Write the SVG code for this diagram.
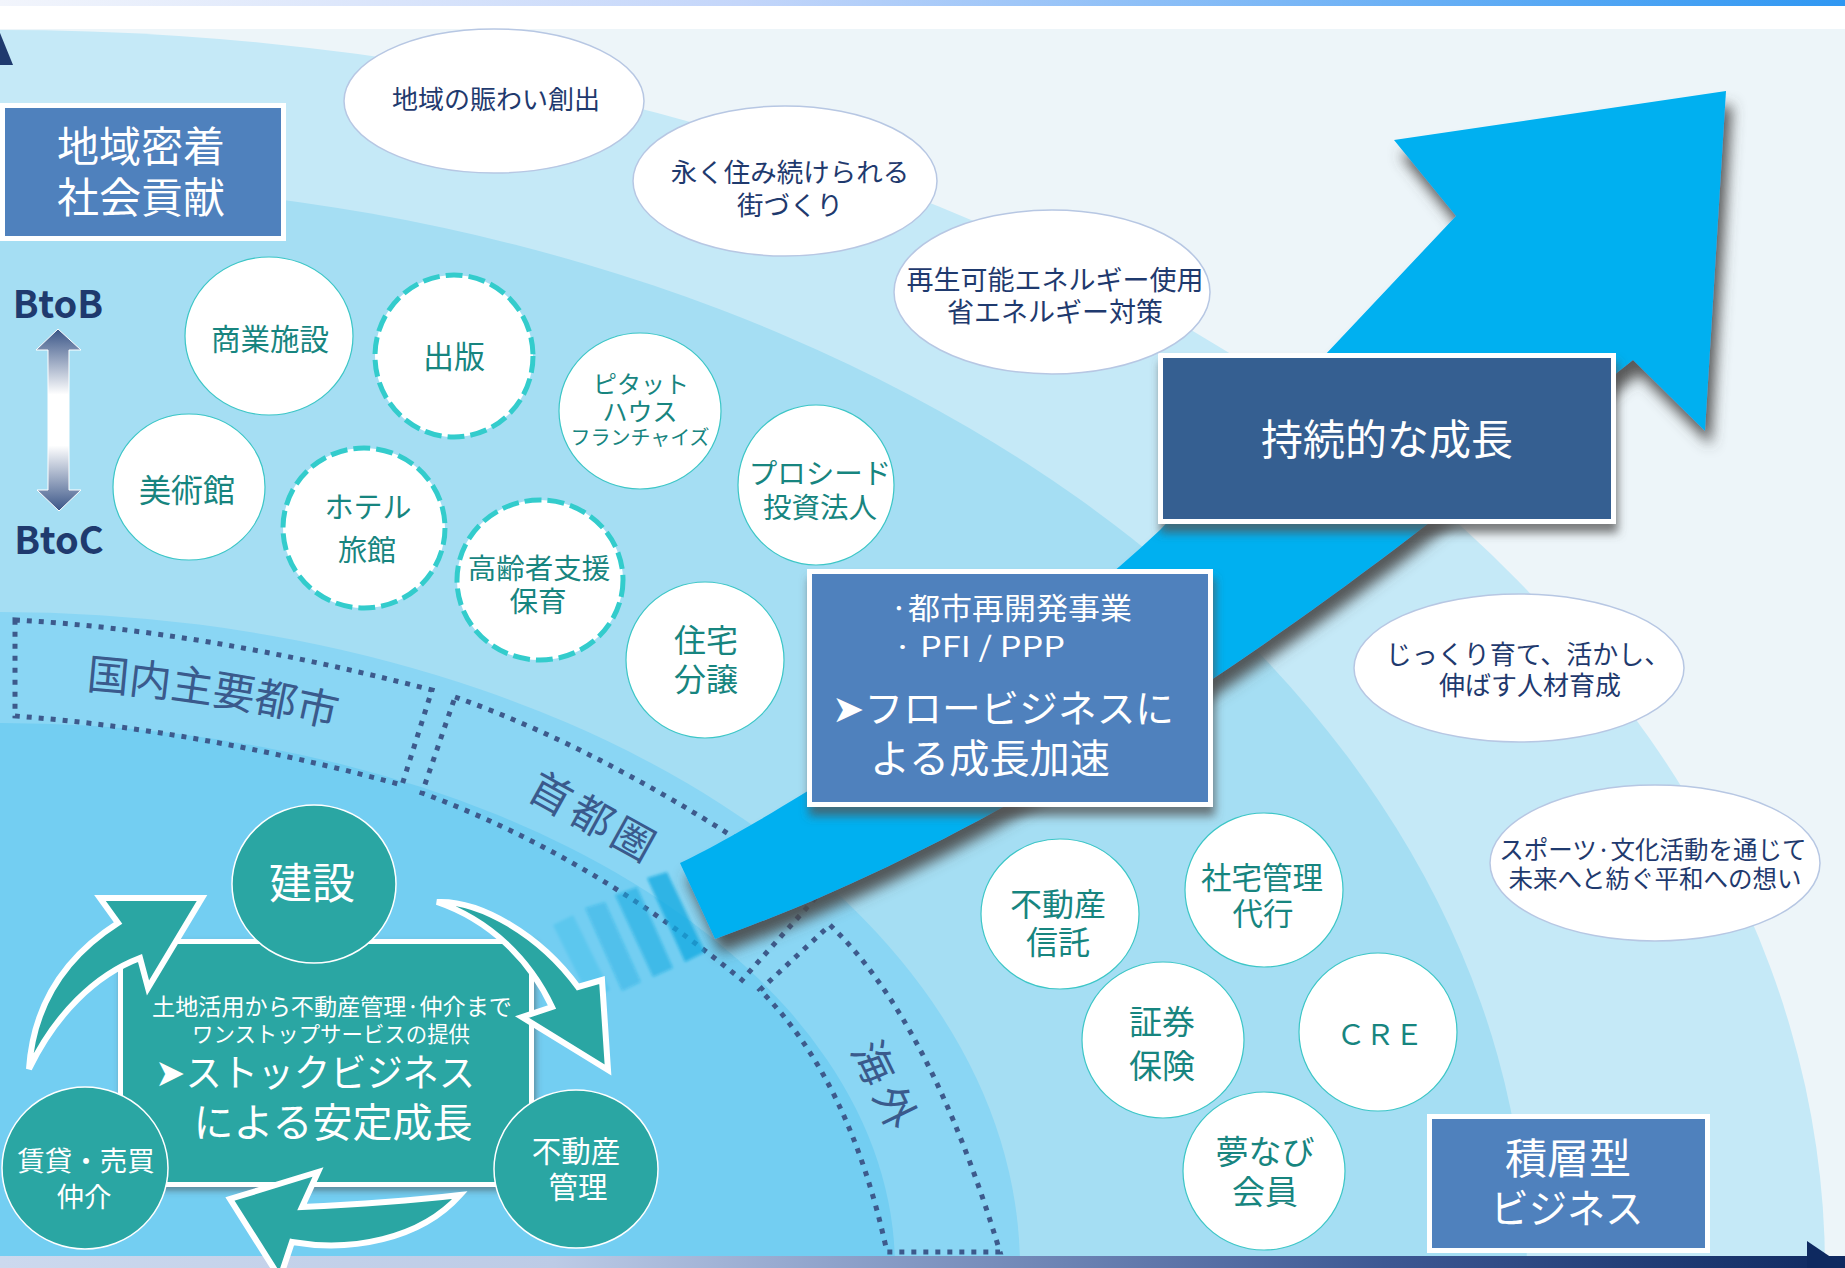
<svg xmlns="http://www.w3.org/2000/svg" width="1845" height="1268" viewBox="0 0 1845 1268">
<defs>
<style>
text{font-family:"Noto Sans CJK JP","Noto Sans CJK SC",sans-serif;dominant-baseline:central;text-anchor:middle}
tspan{dominant-baseline:central}
.nv{fill:#1F3A6E}
.tl{fill:#17857F}
.wt{fill:#fff}
.dl{fill:#3A5A8C}
.e1{fill:#fff;stroke:#B7C7E3;stroke-width:1.5}
.e2{fill:#fff;stroke:#3CC6C6;stroke-width:1.2}
.e3{fill:#fff;stroke:#33CCCC;stroke-width:5;stroke-dasharray:17 6}
.tc{fill:#2AA6A3;stroke:#fff;stroke-width:1.5}
.bx{stroke:#fff;stroke-width:5}
.dot{fill:none;stroke:#3D5A8C;stroke-width:5;stroke-dasharray:5 7}
.ta{fill:#2AA6A3;stroke:#fff;stroke-width:6;stroke-linejoin:miter}
.st{fill:#12A9E0}
</style>
<linearGradient id="gTop" x1="0" y1="0" x2="1845" y2="0" gradientUnits="userSpaceOnUse">
<stop offset="0" stop-color="#F2F5FC"/><stop offset="0.4" stop-color="#C4D6FA"/><stop offset="1" stop-color="#2F97F2"/>
</linearGradient>
<linearGradient id="gBot" x1="0" y1="0" x2="1845" y2="0" gradientUnits="userSpaceOnUse">
<stop offset="0" stop-color="#CCD9EE"/><stop offset="0.3" stop-color="#BCCBE6"/><stop offset="0.45" stop-color="#8FA3CB"/><stop offset="0.75" stop-color="#3D5893"/><stop offset="1" stop-color="#0E2960"/>
</linearGradient>
<linearGradient id="gBB" x1="0" y1="329" x2="0" y2="511" gradientUnits="userSpaceOnUse">
<stop offset="0" stop-color="#3A5587"/><stop offset="0.36" stop-color="#fff"/><stop offset="0.64" stop-color="#fff"/><stop offset="1" stop-color="#3A5587"/>
</linearGradient>
<filter id="sh" x="-10%" y="-10%" width="130%" height="130%"><feDropShadow dx="6" dy="14" stdDeviation="7" flood-color="#4A4A4A" flood-opacity="0.9"/></filter>
<filter id="bs" x="-10%" y="-10%" width="130%" height="140%"><feDropShadow dx="2" dy="9" stdDeviation="5" flood-color="#555" flood-opacity="0.75"/></filter>
<filter id="ss" x="-10%" y="-10%" width="130%" height="130%"><feDropShadow dx="2" dy="4" stdDeviation="3" flood-color="#444" flood-opacity="0.5"/></filter>
<filter id="bl"><feGaussianBlur stdDeviation="1.5"/></filter>
<path id="p1" d="M0,684 Q230,692 440,756"/>
</defs>

<g id="background">
<rect width="1845" height="1268" fill="#fff"/>
<rect y="29" width="1845" height="1230" fill="#EDF5F9"/>
<ellipse cx="0" cy="1268" rx="1825" ry="1238" fill="#C5E9F7"/>
<ellipse cx="0" cy="1268" rx="1527" ry="1087" fill="#A5DEF3"/>
<ellipse cx="0" cy="1268" rx="1020" ry="656" fill="#8AD6F4"/>
<ellipse cx="0" cy="1268" rx="895" ry="545" fill="#73CEF2"/>
<rect width="1845" height="6" fill="url(#gTop)"/>
<rect y="1256" width="1845" height="12" fill="url(#gBot)"/>
<polygon points="0,33 13,65 0,65" fill="#1F3A6E"/>
<polygon points="1807,1241 1847,1268 1807,1268" fill="#0E2960"/>
</g>

<g id="region-domestic">
<path class="dot" d="M15,620 Q200,630 432,690 L402,785 Q200,730 15,716 Z"/>
<text class="dl" font-size="42" style="dominant-baseline:alphabetic;text-anchor:start"><textPath href="#p1" startOffset="86">国内主要都市</textPath></text>
</g>
<g id="region-capital">
<path class="dot" d="M455,697 Q620,755 819,894 L742,980 Q590,855 422,793 Z"/>
<text class="dl" font-size="42" letter-spacing="5" transform="translate(596,815) rotate(29)">首都圏</text>
</g>
<g id="region-overseas">
<path class="dot" d="M830,925 Q930,1020 1000,1252 L887,1252 Q850,1080 760,990 Z"/>
<text class="dl" font-size="42" letter-spacing="8" transform="translate(889,1087) rotate(64)">海外</text>
</g>

<g id="connectors">
<g filter="url(#bl)">
<polygon class="st" opacity="0.75" points="647,878 667,872 705,952 685,962"/>
<polygon class="st" opacity="0.55" points="615,895 637,887 673,968 653,977"/>
<polygon class="st" opacity="0.38" points="585,908 605,902 641,982 622,991"/>
<polygon class="st" opacity="0.2" points="553,925 573,915 610,990 590,1000"/>
</g>
<path id="growth-arrow" filter="url(#sh)" fill="#00B0F0" d="M680,863 C760,825 1000,680 1160,530 L1456,216 L1394,140 L1726,91 L1705,431 L1633,360 C1500,465 1130,790 715,939 Z"/>
<path id="btob-arrow" fill="url(#gBB)" stroke="#fff" stroke-width="1" d="M58,329 L81,350 L69,350 L69,490 L81,490 L59,511 L37,490 L48,490 L48,350 L36,350 Z"/>
</g>

<g id="axis-labels">
<text class="nv" x="58" y="301" font-size="38" font-weight="bold">BtoB</text>
<text class="nv" x="59" y="537" font-size="38" font-weight="bold">BtoC</text>
</g>

<g id="node-chiiki">
<rect class="bx" x="2.5" y="105.5" width="281" height="133" fill="#4F81BD"/>
<text class="wt" font-size="42"><tspan x="141" y="143">地域密着</tspan><tspan x="141" y="194">社会貢献</tspan></text>
</g>

<g id="node-sustain">
<rect class="bx" filter="url(#bs)" x="1160.5" y="355.5" width="453" height="166" fill="#365F91"/>
<text class="wt" x="1387" y="436" font-size="42">持続的な成長</text>
</g>

<g id="node-flow">
<rect class="bx" filter="url(#bs)" x="809.5" y="571.5" width="401" height="233" fill="#4F81BD"/>
<text class="wt" style="text-anchor:start"><tspan x="890" y="606" font-size="30" textLength="242" lengthAdjust="spacingAndGlyphs">·都市再開発事業</tspan><tspan x="893" y="645" font-size="28" textLength="172" lengthAdjust="spacingAndGlyphs">· PFI / PPP</tspan><tspan x="832" y="705" font-size="38" textLength="342" lengthAdjust="spacingAndGlyphs">➤フロービジネスに</tspan><tspan x="870" y="756" font-size="40" textLength="240" lengthAdjust="spacingAndGlyphs">よる成長加速</tspan></text>
</g>

<g id="node-stock-type">
<rect class="bx" x="1429.5" y="1116.5" width="278" height="134" fill="#4F81BD"/>
<text class="wt"><tspan x="1568" y="1155" font-size="42">積層型</tspan><tspan x="1567" y="1206" font-size="40" textLength="153" lengthAdjust="spacingAndGlyphs">ビジネス</tspan></text>
</g>

<g id="node-nigiwai"><ellipse class="e1" cx="494" cy="101" rx="150" ry="72"/>
<text class="nv" x="496" y="97" font-size="26">地域の賑わい創出</text></g>
<g id="node-machi"><ellipse class="e1" cx="785" cy="181" rx="152" ry="75"/>
<text class="nv" font-size="26.5"><tspan x="790" y="170">永く住み続けられる</tspan><tspan x="790" y="203">街づくり</tspan></text></g>
<g id="node-energy"><ellipse class="e1" cx="1052" cy="292" rx="158" ry="82"/>
<text class="nv" font-size="27"><tspan x="1055" y="278">再生可能エネルギー使用</tspan><tspan x="1055" y="310">省エネルギー対策</tspan></text></g>
<g id="node-jinzai"><ellipse class="e1" cx="1519" cy="668" rx="165" ry="74"/>
<text class="nv" font-size="26"><tspan x="1528" y="652">じっくり育て、活かし、</tspan><tspan x="1530" y="683">伸ばす人材育成</tspan></text></g>
<g id="node-sports"><ellipse class="e1" cx="1655" cy="863" rx="165" ry="78"/>
<text class="nv" font-size="24.5"><tspan x="1653" y="848">スポーツ·文化活動を通じて</tspan><tspan x="1655" y="877">未来へと紡ぐ平和への想い</tspan></text></g>

<g id="node-shogyo"><ellipse class="e2" cx="269" cy="336" rx="84" ry="79"/>
<text class="tl" x="270" y="337" font-size="29.5">商業施設</text></g>
<g id="node-shuppan"><ellipse class="e3" cx="454" cy="356" rx="79" ry="81"/>
<text class="tl" x="454" y="354" font-size="31">出版</text></g>
<g id="node-pitat"><ellipse class="e2" cx="640" cy="411" rx="81" ry="78"/>
<text class="tl"><tspan x="641" y="382" font-size="24">ピタット</tspan><tspan x="640" y="410" font-size="25">ハウス</tspan><tspan x="640" y="436" font-size="20">フランチャイズ</tspan></text></g>
<g id="node-bijutsu"><ellipse class="e2" cx="189" cy="487" rx="76" ry="73"/>
<text class="tl" x="187" y="488" font-size="32">美術館</text></g>
<g id="node-hotel"><ellipse class="e3" cx="364" cy="528" rx="81" ry="80"/>
<text class="tl" font-size="29"><tspan x="368" y="505">ホテル</tspan><tspan x="367" y="548">旅館</tspan></text></g>
<g id="node-koureisha"><ellipse class="e3" cx="540" cy="580" rx="83" ry="80"/>
<text class="tl" font-size="28.5"><tspan x="539" y="566">高齢者支援</tspan><tspan x="538" y="599">保育</tspan></text></g>
<g id="node-proceed"><ellipse class="e2" cx="816" cy="485" rx="78" ry="80"/>
<text class="tl" font-size="28.5"><tspan x="820" y="471">プロシード</tspan><tspan x="820" y="505">投資法人</tspan></text></g>
<g id="node-jutaku"><ellipse class="e2" cx="705" cy="660" rx="79" ry="78"/>
<text class="tl" font-size="32"><tspan x="706" y="638">住宅</tspan><tspan x="706" y="677">分譲</tspan></text></g>
<g id="node-shintaku"><ellipse class="e2" cx="1060" cy="914" rx="79" ry="75"/>
<text class="tl" font-size="32"><tspan x="1058" y="902">不動産</tspan><tspan x="1058" y="940">信託</tspan></text></g>
<g id="node-shataku"><ellipse class="e2" cx="1264" cy="890" rx="79" ry="77"/>
<text class="tl" font-size="30.5"><tspan x="1262" y="876">社宅管理</tspan><tspan x="1263" y="912">代行</tspan></text></g>
<g id="node-shoken"><ellipse class="e2" cx="1163" cy="1040" rx="81" ry="78"/>
<text class="tl" font-size="33"><tspan x="1162" y="1020">証券</tspan><tspan x="1162" y="1064">保険</tspan></text></g>
<g id="node-cre"><ellipse class="e2" cx="1378" cy="1032" rx="79" ry="79"/>
<text class="tl" x="1380" y="1032" font-size="29">ＣＲＥ</text></g>
<g id="node-yumenavi"><ellipse class="e2" cx="1264" cy="1171" rx="81" ry="79"/>
<text class="tl" font-size="33"><tspan x="1265" y="1150">夢なび</tspan><tspan x="1265" y="1190">会員</tspan></text></g>

<g id="node-stock">
<rect class="bx" filter="url(#ss)" x="120.5" y="941.5" width="411" height="243" fill="#2AA6A3"/>
<text class="wt"><tspan x="332" y="1005" font-size="23" textLength="360" lengthAdjust="spacingAndGlyphs">土地活用から不動産管理·仲介まで</tspan><tspan x="331" y="1032" font-size="22" textLength="278" lengthAdjust="spacingAndGlyphs">ワンストップサービスの提供</tspan><tspan x="315" y="1069" font-size="38" textLength="320" lengthAdjust="spacingAndGlyphs">➤ストックビジネス</tspan><tspan x="333" y="1120" font-size="40">による安定成長</tspan></text>
</g>

<g id="cycle-arrows">
<path class="ta" d="M29,1069 C33,1010 60,960 118,923 L100,898 L202,898 L148,988 L140,958 C95,975 55,1015 29,1069 Z"/>
<path class="ta" d="M437,902 C480,900 540,935 578,987 L602,980 L608,1070 L522,1017 L552,1007 C530,960 490,920 437,902 Z"/>
<path class="ta" d="M460,1195 Q390,1203 302,1207 L318,1172 L230,1199 L280,1278 L292,1242 C350,1252 420,1240 460,1195 Z"/>
</g>

<g id="node-kensetsu"><ellipse class="tc" cx="314" cy="884" rx="82" ry="79"/>
<text class="wt" x="312" y="880" font-size="43">建設</text></g>
<g id="node-chintai"><ellipse class="tc" cx="85" cy="1168" rx="83" ry="81"/>
<text class="wt" font-size="27.5"><tspan x="86" y="1159">賃貸・売買</tspan><tspan x="84" y="1195">仲介</tspan></text></g>
<g id="node-kanri"><ellipse class="tc" cx="576" cy="1169" rx="82" ry="79"/>
<text class="wt" font-size="29.5"><tspan x="576" y="1149">不動産</tspan><tspan x="578" y="1185">管理</tspan></text></g>
</svg>
